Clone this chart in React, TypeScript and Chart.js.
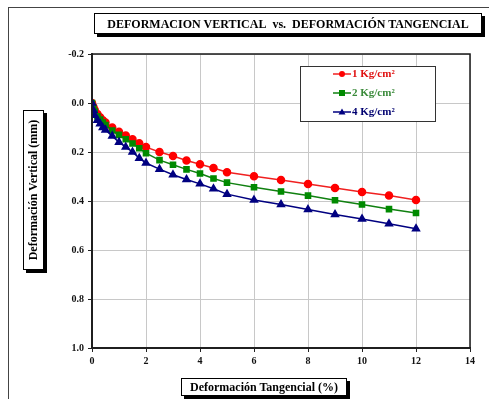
import React, { useEffect, useRef } from "react";
import { Chart, registerables } from "chart.js";

Chart.register(...registerables);

const xValues = [0, 0.05, 0.1, 0.2, 0.3, 0.4, 0.5, 0.75, 1.0, 1.25, 1.5, 1.75, 2.0, 2.5, 3.0, 3.5, 4.0, 4.5, 5.0, 6, 7, 8, 9, 10, 11, 12];
const serie1 = [0, 0.015, 0.028, 0.045, 0.058, 0.07, 0.08, 0.1, 0.117, 0.133, 0.148, 0.164, 0.18, 0.2, 0.216, 0.235, 0.25, 0.265, 0.283, 0.299, 0.314, 0.331, 0.347, 0.363, 0.378, 0.396];
const serie2 = [0, 0.02, 0.035, 0.055, 0.068, 0.08, 0.09, 0.112, 0.13, 0.148, 0.165, 0.185, 0.205, 0.233, 0.252, 0.271, 0.288, 0.308, 0.325, 0.344, 0.361, 0.378, 0.397, 0.414, 0.433, 0.449];
const serie4 = [0, 0.03, 0.05, 0.07, 0.085, 0.1, 0.11, 0.135, 0.16, 0.18, 0.2, 0.225, 0.245, 0.27, 0.293, 0.312, 0.33, 0.35, 0.372, 0.396, 0.414, 0.435, 0.455, 0.473, 0.493, 0.513];
const seriesLabels = ["1 Kg/cm²", "2 Kg/cm²", "4 Kg/cm²"];
const xTicks = [0, 2, 4, 6, 8, 10, 12, 14];
const yTicks = [-0.2, 0, 0.2, 0.4, 0.6, 0.8, 1.0];

const SERIF = "'Liberation Serif', 'Times New Roman', serif";

const legendPlugin = {
  id: "customLegend",
  afterDraw(chart: any) {
    const { ctx, chartArea: a } = chart;
    ctx.save();
    ctx.strokeStyle = "#1a1a1a";
    ctx.lineWidth = 1.5;
    ctx.strokeRect(a.left, a.top, a.right - a.left, a.bottom - a.top);
    const bx = 300, by = 66, bw = 135, bh = 55;
    ctx.fillStyle = "#ffffff";
    ctx.fillRect(bx, by, bw, bh);
    ctx.strokeStyle = "#333";
    ctx.lineWidth = 1;
    ctx.strokeRect(bx + 0.5, by + 0.5, bw, bh);
    const ys = [74, 93, 112];
    chart.data.datasets.forEach((ds: any, i: number) => {
      const y = ys[i];
      ctx.strokeStyle = ds.borderColor;
      ctx.lineWidth = 1.5;
      ctx.beginPath();
      ctx.moveTo(333, y);
      ctx.lineTo(351, y);
      ctx.stroke();
      ctx.fillStyle = ds.pointBackgroundColor;
      const cx = 342;
      ctx.beginPath();
      if (i === 0) {
        ctx.arc(cx, y, 3, 0, Math.PI * 2);
      } else if (i === 1) {
        ctx.rect(cx - 3, y - 3, 6, 6);
      } else {
        ctx.moveTo(cx, y - 3.5);
        ctx.lineTo(cx + 3.5, y + 2.5);
        ctx.lineTo(cx - 3.5, y + 2.5);
        ctx.closePath();
      }
      ctx.fill();
      ctx.fillStyle = ds.legendTextColor;
      ctx.font = `bold 11px ${SERIF}`;
      ctx.textBaseline = "middle";
      ctx.textAlign = "left";
      ctx.fillText(ds.label, 352, y + 0.5);
    });
    ctx.restore();
  },
};

export default function App() {
  const ref = useRef<HTMLCanvasElement | null>(null);
  useEffect(() => {
    if (!ref.current) return;
    const mk = (ys: number[]) => xValues.map((x, i) => ({ x, y: ys[i] }));
    const chart = new Chart(ref.current, {
      type: "line",
      data: {
        datasets: [
          {
            label: seriesLabels[0],
            data: mk(serie1),
            order: 2,
            borderColor: "#f02020",
            backgroundColor: "#ff0000",
            pointBackgroundColor: "#ff0000",
            pointBorderColor: "#ff0000",
            pointStyle: "circle",
            pointRadius: 3.5,
            borderWidth: 1.5,
            legendTextColor: "#e01010",
          } as any,
          {
            label: seriesLabels[1],
            data: mk(serie2),
            order: 1,
            borderColor: "#108010",
            backgroundColor: "#008a00",
            pointBackgroundColor: "#008a00",
            pointBorderColor: "#008a00",
            pointStyle: "rect",
            pointRadius: 3.6,
            borderWidth: 1.5,
            legendTextColor: "#3a8a3a",
          } as any,
          {
            label: seriesLabels[2],
            data: mk(serie4),
            order: 0,
            borderColor: "#000080",
            backgroundColor: "#000080",
            pointBackgroundColor: "#000080",
            pointBorderColor: "#000080",
            pointStyle: "triangle",
            pointRadius: 4,
            borderWidth: 1.5,
            legendTextColor: "#000070",
          } as any,
        ],
      },
      options: {
        animation: false,
        responsive: false,
        maintainAspectRatio: false,
        layout: { padding: { top: 54, right: 19, left: 0, bottom: 0 } },
        plugins: { legend: { display: false }, tooltip: { enabled: false }, title: { display: false } },
        elements: { line: { tension: 0 } },
        scales: {
          x: {
            type: "linear",
            min: 0,
            max: 14,
            afterFit: (s: any) => { s.height = 51; },
            afterBuildTicks: (s: any) => { s.ticks = xTicks.map((v) => ({ value: v })); },
            ticks: {
              font: { family: SERIF, size: 10, weight: "bold" },
              color: "#111",
              padding: 3,
              maxRotation: 0,
              callback: (v: any) => String(v),
            },
            grid: { color: "#c8c8c8", lineWidth: 1, tickLength: 4, tickColor: "#222" },
            border: { color: "#333", width: 2 },
          },
          y: {
            type: "linear",
            min: -0.2,
            max: 1.0,
            reverse: true,
            afterFit: (s: any) => { s.width = 92; },
            afterBuildTicks: (s: any) => { s.ticks = yTicks.map((v) => ({ value: v })); },
            ticks: {
              font: { family: SERIF, size: 10, weight: "bold" },
              color: "#111",
              padding: 4,
              callback: (v: any) => Number(v).toFixed(1),
            },
            grid: { color: "#c8c8c8", lineWidth: 1, tickLength: 4, tickColor: "#222" },
            border: { color: "#333", width: 2 },
          },
        },
      },
      plugins: [legendPlugin],
    } as any);
    return () => chart.destroy();
  }, []);

  const boxBase: React.CSSProperties = {
    position: "absolute",
    background: "#fff",
    border: "1px solid #000",
    boxShadow: "3px 3px 0 #000",
    fontFamily: SERIF,
    fontWeight: "bold",
    color: "#000",
    whiteSpace: "nowrap",
    lineHeight: 1,
  };

  return (
    <div style={{ position: "absolute", left: 0, top: 0, width: 489, height: 399, background: "#fff", overflow: "hidden" }}>
      <div style={{ position: "absolute", left: 8, top: 7, width: 500, height: 420, borderLeft: "1px solid #444", borderTop: "1px solid #444" }} />
      <canvas ref={ref} width={489} height={399} style={{ position: "absolute", left: 0, top: 0, width: 489, height: 399 }} />
      <div style={{ ...boxBase, left: 94, top: 13, width: 386, height: 19, fontSize: 12, display: "flex", alignItems: "center", justifyContent: "center" }}>
        DEFORMACION VERTICAL&nbsp; vs.&nbsp; DEFORMACIÓN TANGENCIAL
      </div>
      <div style={{ ...boxBase, left: 23, top: 110, width: 19, height: 158, fontSize: 12, display: "flex", alignItems: "center", justifyContent: "center" }}>
        <span style={{ transform: "rotate(-90deg)", display: "inline-block" }}>Deformación Vertical (mm)</span>
      </div>
      <div style={{ ...boxBase, left: 181, top: 378, width: 164, height: 16, fontSize: 12, display: "flex", alignItems: "center", justifyContent: "center" }}>
        Deformación Tangencial (%)
      </div>
    </div>
  );
}
